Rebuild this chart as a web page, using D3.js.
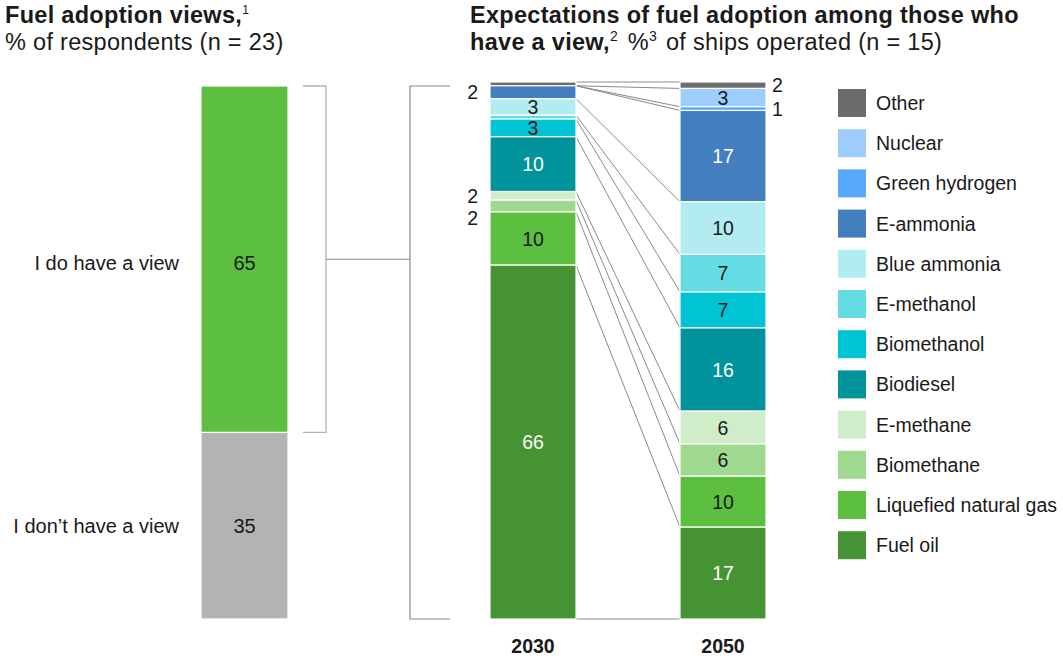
<!DOCTYPE html>
<html>
<head>
<meta charset="utf-8">
<script src="https://cdn.jsdelivr.net/npm/d3@7"></script>
<style>
  body { margin: 0; background: #fff; }
  svg { display: block; }
  text { font-family: "Liberation Sans", Arial, Helvetica, sans-serif; fill: #1a1a1a; }
  .title { font-size: 23.5px; letter-spacing: 0.3px; }
</style>
</head>
<body>
<svg id="chart" width="1063" height="660"></svg>
<script>
// ---- Data ----
const viewCategories = ["I do have a view", "I don\u2019t have a view"];
const viewValues = [65, 35];
const viewColors = ["#5dbf3f", "#b3b3b3"];

const fuels = ["Other", "Nuclear", "Green hydrogen", "E-ammonia", "Blue ammonia", "E-methanol",
               "Biomethanol", "Biodiesel", "E-methane", "Biomethane", "Liquefied natural gas", "Fuel oil"];
const fuelColors = ["#6b6b6b", "#9dcdfd", "#58a9fd", "#437fbf", "#b3ecf0", "#64dce3",
                    "#00c3d4", "#00939b", "#cfedc9", "#9fd98f", "#5dbf3f", "#459332"];
const years = ["2030", "2050"];
const values2030 = [0.7, 0, 0, 2.4, 3.1, 0.7, 3.3, 10.2, 1.6, 2.2, 9.9, 65.9];
const values2050 = [1.2, 3.4, 0.7, 17, 9.8, 7, 6.7, 15.5, 6.1, 6, 9.5, 17.1];
const labels2030 = ["", "", "", "2", "3", "", "3", "10", "2", "2", "10", "66"];
const labels2050 = ["2", "3", "1", "17", "10", "7", "7", "16", "6", "6", "10", "17"];
// label placement: "in" inside bar, "left"/"right" outside
const place2030 = ["", "", "", "left", "in", "", "in", "in", "left", "left", "in", "in"];
const place2050 = ["right", "in", "right", "in", "in", "in", "in", "in", "in", "in", "in", "in"];
const whiteText = ["E-ammonia", "Biodiesel", "Fuel oil"];

// ---- Drawing ----
const svg = d3.select("#chart");
const bottomY = 619;

// Titles
const t1 = svg.append("text").attr("class", "title").attr("x", 5).attr("y", 23);
t1.append("tspan").attr("font-weight", "bold").text("Fuel adoption views,");
t1.append("tspan").attr("dy", -9).style("font-size", "12px").text("1");
svg.append("text").attr("class", "title").attr("x", 5).attr("y", 50).text("% of respondents (n = 23)");

svg.append("text").attr("class", "title").attr("x", 470).attr("y", 23)
  .attr("font-weight", "bold").text("Expectations of fuel adoption among those who");
const t2 = svg.append("text").attr("class", "title").attr("x", 470).attr("y", 50);
t2.append("tspan").attr("font-weight", "bold").text("have a view,");
t2.append("tspan").attr("dy", -9).style("font-size", "14px").text("2");
t2.append("tspan").attr("dy", 9).attr("dx", 3).text("\u00a0%");
t2.append("tspan").attr("dy", -9).style("font-size", "14px").text("3");
t2.append("tspan").attr("dy", 9).attr("dx", 2).text(" of ships operated (n = 15)");

// Left bar
const yLeft = d3.scaleLinear().domain([0, d3.sum(viewValues)]).range([bottomY, 86]);
const xLeft = d3.scaleBand().domain(["v"]).range([201, 288]);
let cum = d3.sum(viewValues);
const leftSegs = viewValues.map((v, i) => { const top = cum; cum -= v; return { i, v, top, bot: cum }; });
svg.append("g").selectAll("rect").data(leftSegs).join("rect")
  .attr("x", xLeft("v")).attr("width", xLeft.bandwidth())
  .attr("y", d => yLeft(d.top)).attr("height", d => yLeft(d.bot) - yLeft(d.top))
  .attr("fill", d => viewColors[d.i]).attr("stroke", "#fff").attr("stroke-width", 1.2);
svg.append("g").selectAll("text.val").data(leftSegs).join("text")
  .attr("x", xLeft("v") + xLeft.bandwidth() / 2).attr("y", d => (yLeft(d.top) + yLeft(d.bot)) / 2 + (d.i === 0 ? 4 : 0))
  .attr("text-anchor", "middle").attr("dominant-baseline", "central").style("font-size", "20px")
  .text(d => d.v);
svg.append("g").selectAll("text.cat").data(leftSegs).join("text")
  .attr("x", 179).attr("y", d => (yLeft(d.top) + yLeft(d.bot)) / 2 + (d.i === 0 ? 4 : 0))
  .attr("text-anchor", "end").attr("dominant-baseline", "central").style("font-size", "20px")
  .text(d => viewCategories[d.i]);

// Brackets
const haveTop = yLeft(100), haveBot = yLeft(35);
svg.append("path").attr("d", `M303,${haveTop}H326V${haveBot}H303`)
  .attr("fill", "none").attr("stroke", "#b3b3b3").attr("stroke-width", 1.3);
const midY = (haveTop + haveBot) / 2;
svg.append("path").attr("d", `M326,${midY}H410`).attr("fill", "none").attr("stroke", "#8a8a8a").attr("stroke-width", 1.2);
svg.append("path").attr("d", `M450,${yLeft(100)}H410V${bottomY}H450`)
  .attr("fill", "none").attr("stroke", "#8a8a8a").attr("stroke-width", 1.2);

// Right stacked bars
const xYear = d3.scaleOrdinal().domain(years).range([490, 680]);
const barW = 86;
const allVals = [values2030, values2050];
const allLabels = [labels2030, labels2050];
const allPlace = [place2030, place2050];
const yScales = allVals.map(vals => d3.scaleLinear().domain([0, d3.sum(vals)]).range([bottomY, 82]));

// boundaries (cumulative from top)
function bounds(vals) {
  const total = d3.sum(vals);
  const b = [total];
  let c = total;
  vals.forEach(v => { c -= v; b.push(c); });
  return b;
}
const b0 = bounds(values2030), b1 = bounds(values2050);

// Connectors
svg.append("g").selectAll("line").data(d3.range(b0.length)).join("line")
  .attr("x1", xYear("2030") + barW).attr("x2", xYear("2050"))
  .attr("y1", i => yScales[0](b0[i])).attr("y2", i => yScales[1](b1[i]))
  .attr("stroke", "#8a8a8a").attr("stroke-width", 1);

years.forEach((yr, k) => {
  const vals = allVals[k], y = yScales[k], b = k === 0 ? b0 : b1;
  const segs = fuels.map((f, i) => ({ f, i, top: b[i], bot: b[i + 1], v: vals[i] })).filter(d => d.v > 0);
  const g = svg.append("g");
  g.selectAll("rect").data(segs).join("rect")
    .attr("x", xYear(yr)).attr("width", barW)
    .attr("y", d => y(d.top)).attr("height", d => y(d.bot) - y(d.top))
    .attr("fill", d => fuelColors[d.i]).attr("stroke", "#fff").attr("stroke-width", 1.2);

  // labels
  let prevOut = -1e9;
  segs.forEach(d => {
    const lab = allLabels[k][d.i], pl = allPlace[k][d.i];
    if (!lab) return;
    let cy = (y(d.top) + y(d.bot)) / 2;
    let x = xYear(yr) + barW / 2, anchor = "middle";
    if (pl !== "in") {
      cy = Math.max(cy, prevOut + 22);
      prevOut = cy;
      if (pl === "left") { x = xYear(yr) - 12; anchor = "end"; }
      else { x = xYear(yr) + barW + 6; anchor = "start"; }
    }
    g.append("text").attr("x", x).attr("y", cy).attr("text-anchor", anchor)
      .attr("dominant-baseline", "central").style("font-size", "19.5px")
      .style("fill", pl === "in" && whiteText.includes(d.f) ? "#ffffff" : "#1a1a1a")
      .text(lab);
  });

  svg.append("text").attr("x", xYear(yr) + barW / 2).attr("y", 653).attr("text-anchor", "middle")
    .attr("font-weight", "bold").style("font-size", "19.5px").text(yr);
});

// Legend
const legend = svg.append("g").selectAll("g").data(fuels).join("g")
  .attr("transform", (d, i) => `translate(838, ${89 + i * 40.2})`);
legend.append("rect").attr("width", 28).attr("height", 28).attr("fill", (d, i) => fuelColors[i]);
legend.append("text").attr("x", 38).attr("y", 14).attr("dominant-baseline", "central")
  .style("font-size", "19.5px").text(d => d);
</script>
</body>
</html>
